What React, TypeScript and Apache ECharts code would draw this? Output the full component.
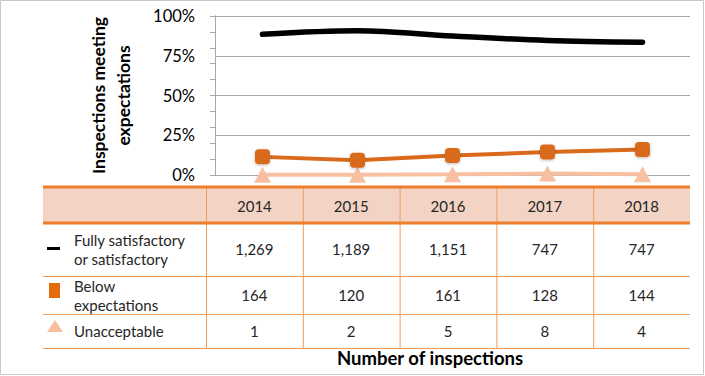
import React, { useEffect, useRef } from "react";
import * as echarts from "echarts";

const years = ["2014", "2015", "2016", "2017", "2018"];
const seriesNames = ["Fully satisfactory\nor satisfactory", "Below\nexpectations", "Unacceptable"];
// share of inspections (%)
const fullyPct = [88.5, 90.7, 87.4, 84.6, 83.5];
const belowPct = [11.4, 9.2, 12.2, 14.5, 16.1];
const unaccPct = [0.1, 0.2, 0.4, 0.9, 0.4];
// number of inspections (table)
const fullyCount = [1269, 1189, 1151, 747, 747];
const belowCount = [164, 120, 161, 128, 144];
const unaccCount = [1, 2, 5, 8, 4];
const yTicks = [0, 25, 50, 75, 100];

const FONT = "Lato, 'Open Sans', sans-serif";
const ORANGE = "#EE7D2C";
const THIN = "#F09A5C";

export default function App() {
  const ref = useRef<HTMLDivElement>(null);
  useEffect(() => {
    const chart = echarts.init(ref.current!, null, { renderer: "svg" });

    const tLeft = 43, tRight = 690, colStart = 206;
    const colW = (tRight - colStart) / years.length;
    const hTop = 187, hBot = 223;
    const rowLines = [276, 314, 348];
    const counts = [fullyCount, belowCount, unaccCount];
    const fmt = (v: number) => v.toLocaleString("en-US");

    const g: any[] = [];
    // outer border
    g.push({ type: "rect", shape: { x: 0.5, y: 0.5, width: 703, height: 374 }, style: { fill: "none", stroke: "#C8C8C8", lineWidth: 1 }, silent: true });
    // header background
    g.push({ type: "rect", shape: { x: tLeft, y: hTop, width: tRight - tLeft, height: hBot - hTop }, style: { fill: "#F3D4C4" }, z: 1 });
    // vertical lines
    for (let i = 0; i < years.length; i++) {
      const x = colStart + i * colW;
      g.push({ type: "line", shape: { x1: x + 0.5, y1: hTop, x2: x + 0.5, y2: rowLines[2] }, style: { stroke: THIN, lineWidth: 1 }, z: 2 });
    }
    // row lines
    rowLines.forEach((y) => {
      g.push({ type: "line", shape: { x1: tLeft, y1: y + 0.5, x2: tRight, y2: y + 0.5 }, style: { stroke: THIN, lineWidth: 1 }, z: 2 });
    });
    // thick header lines
    [hTop, hBot].forEach((y) => {
      g.push({ type: "line", shape: { x1: tLeft, y1: y, x2: tRight, y2: y }, style: { stroke: ORANGE, lineWidth: 3 }, z: 3 });
    });
    // header text
    years.forEach((yr, i) => {
      g.push({ type: "text", x: colStart + (i + 0.5) * colW, y: (hTop + hBot) / 2 + 1, style: { text: yr, font: `15px ${FONT}`, fill: "#262626", textAlign: "center", textVerticalAlign: "middle" }, z: 4 });
    });
    // rows
    const rowCenters = [249, 295, 331];
    counts.forEach((arr, r) => {
      arr.forEach((v, i) => {
        g.push({ type: "text", x: colStart + (i + 0.5) * colW, y: rowCenters[r], style: { text: fmt(v), font: `15px ${FONT}`, fill: "#262626", textAlign: "center", textVerticalAlign: "middle" }, z: 4 });
      });
      g.push({ type: "text", x: 74, y: rowCenters[r], style: { text: seriesNames[r], font: `15px ${FONT}`, fill: "#262626", textAlign: "left", textVerticalAlign: "middle", lineHeight: 19 }, z: 4 });
    });
    // legend keys
    g.push({ type: "rect", shape: { x: 47, y: 247, width: 13, height: 3 }, style: { fill: "#000" }, z: 4 });
    g.push({ type: "rect", shape: { x: 49, y: 283, width: 11, height: 15 }, style: { fill: "#E36C0A" }, z: 4 });
    g.push({ type: "polygon", shape: { points: [[55, 320], [63, 332], [47, 332]] }, style: { fill: "#F9BF9C" }, z: 4 });
    // x title
    g.push({ type: "text", x: 430, y: 358, style: { text: "Number of inspections", font: `bold 18.5px ${FONT}`, fill: "#000", textAlign: "center", textVerticalAlign: "middle" }, z: 4 });

    chart.setOption({
      animation: false,
      grid: { left: 215, right: 15, top: 16, bottom: 201, containLabel: false },
      xAxis: {
        type: "category",
        data: years,
        boundaryGap: true,
        axisLine: { show: false },
        axisTick: { show: false },
        axisLabel: { show: false },
      },
      yAxis: [
        {
          type: "value",
          min: 0,
          max: 100,
          interval: 25,
          name: "Inspections meeting\nexpectations",
          nameLocation: "middle",
          nameGap: 79,
          nameRotate: 90,
          nameTextStyle: { fontFamily: FONT, fontSize: 17.5, fontWeight: "bold", color: "#000", lineHeight: 25 },
          axisLine: { show: true, lineStyle: { color: "#A6A6A6" } },
          axisTick: { show: false },
          axisLabel: { formatter: (v: number) => (yTicks.includes(v) ? v + "%" : ""), fontFamily: FONT, fontSize: 16.5, color: "#000", margin: 20 },
          splitLine: { lineStyle: { color: "#A6A6A6", width: 1 } },
        },
        {
          type: "value",
          position: "left",
          min: 0,
          max: 100,
          interval: 10,
          axisLine: { show: true, lineStyle: { color: "#A6A6A6" } },
          axisTick: { show: true, length: 5, lineStyle: { color: "#A6A6A6" } },
          axisLabel: { show: false },
          splitLine: { show: false },
        },
      ],
      series: [
        {
          name: "Fully satisfactory or satisfactory",
          type: "line",
          data: fullyPct,
          smooth: 0.35,
          symbol: "none",
          lineStyle: { color: "#000", width: 5.5, cap: "round" },
          itemStyle: { color: "#000" },
          z: 3,
        },
        {
          name: "Unacceptable",
          type: "line",
          data: unaccPct,
          symbol: "triangle",
          symbolSize: [17, 16],
          clip: false,
          lineStyle: { color: "#F7C0A3", width: 4 },
          itemStyle: { color: "#F7C0A3" },
          z: 3,
        },
        {
          name: "Below expectations",
          type: "line",
          data: belowPct,
          symbol: "roundRect",
          symbolSize: 15,
          clip: false,
          lineStyle: { color: "#D96A1B", width: 4 },
          itemStyle: { color: "#D96A1B", shadowColor: "rgba(0,0,0,0.25)", shadowBlur: 3, shadowOffsetY: 1 },
          z: 4,
        },
      ],
      graphic: g,
    });
    return () => chart.dispose();
  }, []);
  return <div ref={ref} style={{ position: "fixed", left: 0, top: 0, width: 705, height: 376, background: "#fff" }} />;
}
